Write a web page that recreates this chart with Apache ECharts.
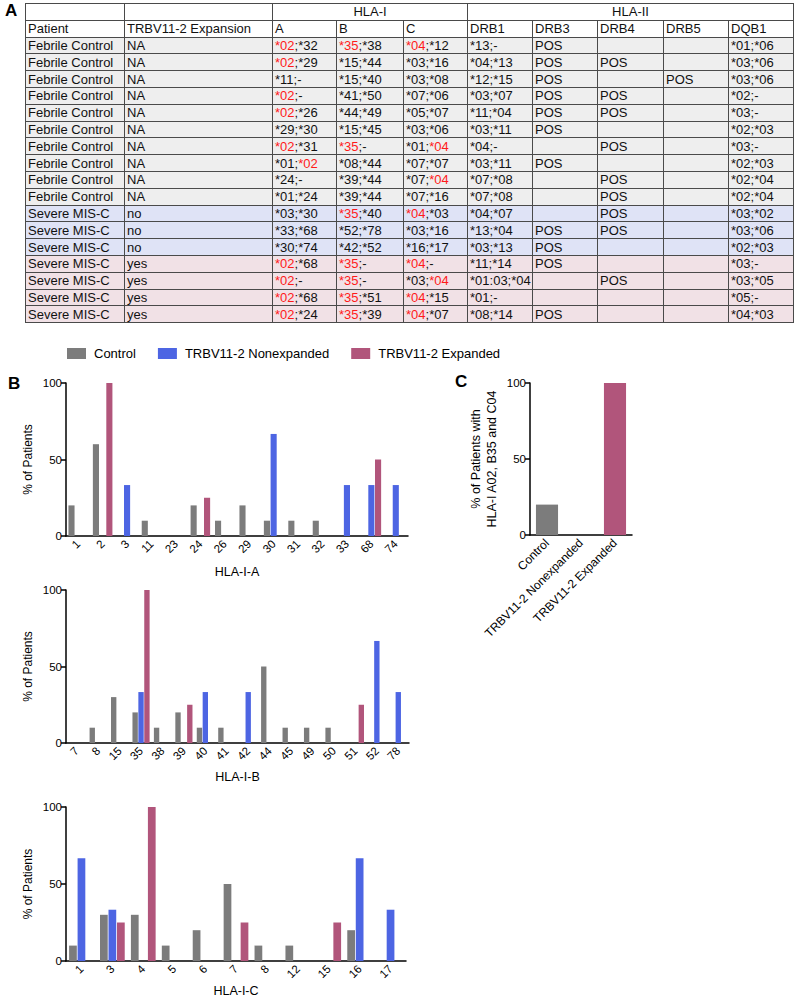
<!DOCTYPE html>
<html>
<head>
<meta charset="utf-8">
<script src="https://cdn.jsdelivr.net/npm/echarts@6/dist/echarts.min.js"></script>
<style>
  html, body { margin:0; padding:0; background:#fff; }
  body { width:797px; height:1000px; position:relative; overflow:hidden; font-family:"Liberation Sans", Arial, Helvetica, sans-serif; }
  #chart { position:absolute; left:0; top:0; width:797px; height:1000px; }
  #tbl { position:absolute; left:25px; top:3px; border-collapse:collapse; table-layout:fixed; width:768px; font-size:13px; color:#111; z-index:2; }
  #tbl td { border:1px solid #4a4a4a; height:15.8px; padding:0 0 0 2px; white-space:nowrap; overflow:hidden; line-height:15px; }
  #tbl tr.h td { background:#fff; }
  #tbl td.center { text-align:center; padding:0; }
  .red { color:#ff1a1a; }
  .panel { position:absolute; font-weight:bold; font-size:17px; color:#000; z-index:3; }
</style>
</head>
<body>
<div id="chart"></div>
<table id="tbl"></table>
<div class="panel" style="left:5px;top:1px;">A</div>
<div class="panel" style="left:8px;top:374px;">B</div>
<div class="panel" style="left:455px;top:372px;">C</div>
<script>
// ---------- Table data (panel A) ----------
const tableColumns = ['Patient', 'TRBV11-2 Expansion', 'A', 'B', 'C', 'DRB1', 'DRB3', 'DRB4', 'DRB5', 'DQB1'];
const tableGroups = [['', 1], ['', 1], ['HLA-I', 3], ['HLA-II', 5]];
const patients = ['Febrile Control','Febrile Control','Febrile Control','Febrile Control','Febrile Control','Febrile Control','Febrile Control','Febrile Control','Febrile Control','Febrile Control','Severe MIS-C','Severe MIS-C','Severe MIS-C','Severe MIS-C','Severe MIS-C','Severe MIS-C','Severe MIS-C'];
const expansion = ['NA','NA','NA','NA','NA','NA','NA','NA','NA','NA','no','no','no','yes','yes','yes','yes'];
const hlaA = ['*02;*32','*02;*29','*11;-','*02;-','*02;*26','*29;*30','*02;*31','*01;*02','*24;-','*01;*24','*03;*30','*33;*68','*30;*74','*02;*68','*02;-','*02;*68','*02;*24'];
const hlaB = ['*35;*38','*15;*44','*15;*40','*41;*50','*44;*49','*15;*45','*35;-','*08;*44','*39;*44','*39;*44','*35;*40','*52;*78','*42;*52','*35;-','*35;-','*35;*51','*35;*39'];
const hlaC = ['*04;*12','*03;*16','*03;*08','*07;*06','*05;*07','*03;*06','*01;*04','*07;*07','*07;*04','*07;*16','*04;*03','*03;*16','*16;*17','*04;-','*03;*04','*04;*15','*04;*07'];
const drb1 = ['*13;-','*04;*13','*12;*15','*03;*07','*11;*04','*03;*11','*04;-','*03;*11','*07;*08','*07;*08','*04;*07','*13;*04','*03;*13','*11;*14','*01:03;*04','*01;-','*08;*14'];
const drb3 = ['POS','POS','POS','POS','POS','POS','','POS','','','','POS','POS','POS','','','POS'];
const drb4 = ['','POS','','POS','POS','','POS','','POS','POS','POS','POS','','','POS','',''];
const drb5 = ['','','POS','','','','','','','','','','','','','',''];
const dqb1 = ['*01;*06','*03;*06','*03;*06','*02;-','*03;-','*02;*03','*03;-','*02;*03','*02;*04','*02;*04','*03;*02','*03;*06','*02;*03','*03;-','*03;*05','*05;-','*04;*03'];
const highlighted = { A: '*02', B: '*35', C: '*04' };

// ---------- Chart data (panels B and C) ----------
const seriesNames = ['Control', 'TRBV11-2 Nonexpanded', 'TRBV11-2 Expanded'];
const catA = ['1','2','3','11','23','24','26','29','30','31','32','33','68','74'];
const aControl = [20,60,0,10,0,20,10,20,10,10,10,0,0,0];
const aNonexp  = [0,0,33.3,0,0,0,0,0,66.7,0,0,33.3,33.3,33.3];
const aExp     = [0,100,0,0,0,25,0,0,0,0,0,0,50,0];

const catB = ['7','8','15','35','38','39','40','41','42','44','45','49','50','51','52','78'];
const bControl = [0,10,30,20,10,20,10,10,0,50,10,10,10,0,0,0];
const bNonexp  = [0,0,0,33.3,0,0,33.3,0,33.3,0,0,0,0,0,66.7,33.3];
const bExp     = [0,0,0,100,0,25,0,0,0,0,0,0,0,25,0,0];

const catC = ['1','3','4','5','6','7','8','12','15','16','17'];
const cControl = [10,30,30,10,20,50,10,10,0,20,0];
const cNonexp  = [66.7,33.3,0,0,0,0,0,0,0,66.7,33.3];
const cExp     = [0,25,100,0,0,25,0,0,25,0,0];

const catPanelC = ['Control', 'TRBV11-2 Nonexpanded', 'TRBV11-2 Expanded'];
const panelCValues = [20, 0, 100];

const yTicks = [0, 50, 100];

// ---------- Build table ----------
const rowBg = { 'NA': '#eeeeee', 'no': '#dfe3f6', 'yes': '#f1e1e6' };
function esc(s) { return s.replace(/&/g,'&amp;').replace(/</g,'&lt;'); }
function alleleHtml(val, hl) {
  if (!hl) return esc(val);
  return val.split(';').map(p => p === hl ? '<span class="red">' + esc(p) + '</span>' : esc(p)).join(';');
}
(function buildTable() {
  const tbl = document.getElementById('tbl');
  const widths = [99,148,64,67,64,65,65,66,65,65];
  let html = '<colgroup>' + widths.map(w => '<col style="width:' + w + 'px">').join('') + '</colgroup>';
  html += '<tr class="h">' + tableGroups.map(g => '<td class="center" colspan="' + g[1] + '">' + g[0] + '</td>').join('') + '</tr>';
  html += '<tr class="h">' + tableColumns.map(c => '<td>' + c + '</td>').join('') + '</tr>';
  for (let i = 0; i < patients.length; i++) {
    const bg = rowBg[expansion[i]];
    const cells = [
      esc(patients[i]), esc(expansion[i]),
      alleleHtml(hlaA[i], highlighted.A), alleleHtml(hlaB[i], highlighted.B), alleleHtml(hlaC[i], highlighted.C),
      esc(drb1[i]), esc(drb3[i]), esc(drb4[i]), esc(drb5[i]), esc(dqb1[i])
    ];
    html += '<tr style="background:' + bg + '">' + cells.map(c => '<td>' + c + '</td>').join('') + '</tr>';
  }
  tbl.innerHTML = html;
})();

// ---------- Build charts ----------
const colors = ['#7c7c7c', '#4d65e3', '#b1557b'];
const FONT = '"Liberation Sans", Arial, Helvetica, sans-serif';
const axisLineStyle = { color: '#000', width: 1.5 };

function xAxisDef(gridIndex, cats, name, nameGap, labelSize) {
  return {
    type: 'category', gridIndex: gridIndex, data: cats,
    name: name, nameLocation: 'middle', nameGap: nameGap,
    nameTextStyle: { fontSize: 12.5, color: '#000', fontFamily: FONT },
    axisLine: { lineStyle: axisLineStyle },
    axisTick: { alignWithLabel: true, length: 5, lineStyle: axisLineStyle },
    axisLabel: { rotate: 45, interval: 0, fontSize: labelSize, color: '#000', fontFamily: FONT, margin: 6 },
    splitLine: { show: false }
  };
}
function yAxisDef(gridIndex, name, nameGap, nameSize) {
  return {
    type: 'value', gridIndex: gridIndex, min: yTicks[0], max: yTicks[yTicks.length - 1], interval: yTicks[1] - yTicks[0],
    name: name, nameLocation: 'middle', nameGap: nameGap, nameRotate: 90,
    nameTextStyle: { fontSize: nameSize, color: '#000', fontFamily: FONT, lineHeight: nameSize * 1.3 },
    axisLine: { show: true, lineStyle: axisLineStyle },
    axisTick: { show: true, length: 5, lineStyle: axisLineStyle },
    axisLabel: { fontSize: 11.5, color: '#000', fontFamily: FONT, margin: 4 },
    splitLine: { show: false }
  };
}
function groupedSeries(axisIndex, datasets) {
  return datasets.map((d, i) => ({
    type: 'bar', name: seriesNames[i], xAxisIndex: axisIndex, yAxisIndex: axisIndex,
    data: d, barWidth: '25%', barGap: '10%',
    itemStyle: { color: colors[i] }
  }));
}
const panelCSeries = seriesNames.map((n, i) => ({
  type: 'bar', name: n, xAxisIndex: 3, yAxisIndex: 3, stack: 'panelC',
  data: panelCValues.map((v, j) => (j === i ? v : '-')), barWidth: '65%',
  itemStyle: { color: colors[i] }
}));

const option = {
  animation: false,
  textStyle: { fontFamily: FONT },
  legend: {
    data: seriesNames, left: 62, top: 342, itemWidth: 19, itemHeight: 11, itemGap: 22,
    icon: 'rect', selectedMode: false,
    textStyle: { fontSize: 13, color: '#000', fontFamily: FONT, padding: [0, 0, 0, 3] }
  },
  grid: [
    { left: 66, top: 383, width: 342, height: 153 },
    { left: 66, top: 590, width: 343, height: 153 },
    { left: 66, top: 807, width: 340, height: 154 },
    { left: 530, top: 383, width: 102, height: 152 }
  ],
  xAxis: [
    xAxisDef(0, catA, 'HLA-I-A', 29, 11.5),
    xAxisDef(1, catB, 'HLA-I-B', 27, 11.5),
    xAxisDef(2, catC, 'HLA-I-C', 23, 11.5),
    xAxisDef(3, catPanelC, '', 0, 12)
  ],
  yAxis: [
    yAxisDef(0, '% of Patients', 30, 12),
    yAxisDef(1, '% of Patients', 30, 12),
    yAxisDef(2, '% of Patients', 30, 12),
    yAxisDef(3, '% of Patients with\nHLA-I A02, B35 and C04', 30, 12.5)
  ],
  series: [].concat(
    groupedSeries(0, [aControl, aNonexp, aExp]),
    groupedSeries(1, [bControl, bNonexp, bExp]),
    groupedSeries(2, [cControl, cNonexp, cExp]),
    panelCSeries
  )
};

const chart = echarts.init(document.getElementById('chart'), null, { renderer: 'svg', width: 797, height: 1000 });
chart.setOption(option);
</script>
</body>
</html>
